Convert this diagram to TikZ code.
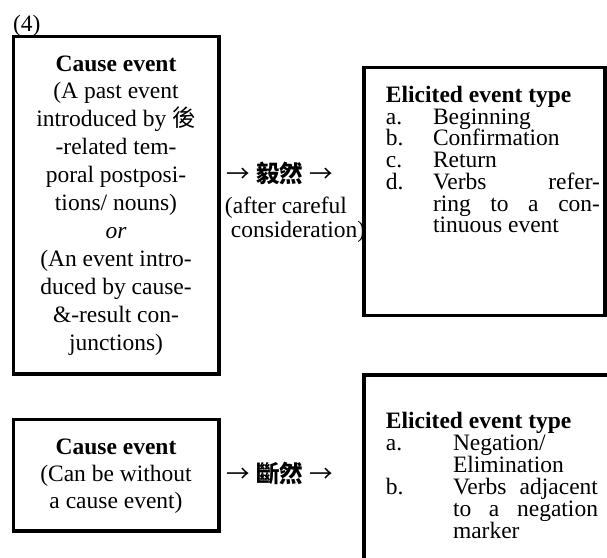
\documentclass[tikz,border=0pt]{standalone}
\usepackage{fontspec}
\setmainfont{Liberation Serif}
\newfontfamily\cjk{Noto Sans CJK TC}
\begin{document}
\begin{tikzpicture}[x=0.5pt,y=-0.5pt,
  every node/.style={inner sep=0pt, outer sep=0pt, font=\fontsize{11.75pt}{13pt}\selectfont},
  box/.style={draw, line width=1.75pt, inner sep=0pt},
  ctext/.style={anchor=base},
  ltext/.style={anchor=base west}]
\useasboundingbox (0,0) rectangle (607,558);
\clip (0,0) rectangle (607,558);
\fill[white] (0,0) rectangle (607,558);

% frames
\node[box, minimum width=102.75pt, minimum height=168.75pt] (cause1) at (116.25,205.25) {};
\node[box, minimum width=120.5pt, minimum height=124pt] (elic1) at (484.5,191.5) {};
\node[box, minimum width=102.75pt, minimum height=55.75pt] (cause2) at (116.25,475.25) {};
\node[box, minimum width=125.5pt, minimum height=112.5pt] (elic2) at (489.5,487.5) {};

% label
\node[ltext] (num) at (13,31) {(4)};

% cause event 1
\node[ctext] (c1a) at (116,71) {\textbf{Cause event}};
\node[ctext] (c1b) at (116,98.9) {(A past event};
\node[ctext] (c1c) at (116,126.8) {introduced by {\cjk 後}};
\node[ctext] (c1d) at (116,154.7) {-related tem-};
\node[ctext] (c1e) at (116,182.6) {poral postposi-};
\node[ctext] (c1f) at (116,210.5) {tions/ nouns)};
\node[ctext] (c1g) at (116,238.4) {\textit{or}};
\node[ctext] (c1h) at (116,266.3) {(An event intro-};
\node[ctext] (c1i) at (116,294.2) {duced by cause-};
\node[ctext] (c1j) at (116,322.1) {\&-result con-};
\node[ctext] (c1k) at (116,350) {junctions)};

% middle 1
\node[ltext] (m1) at (227,182) {{\cjk →} {\cjk\bfseries 毅然} {\cjk →}};
\node[ltext] (m1b) at (225,213) {(after careful};
\node[ltext] (m1c) at (225,237) {\ consideration)};

% elicited 1
\node[ltext] (e1h) at (386,102.5) {\textbf{Elicited event type}};
\node[ltext] (e1a) at (386,124.2) {a.};
\node[ltext] (e1at) at (433,124.2) {Beginning};
\node[ltext] (e1b) at (386,145.9) {b.};
\node[ltext] (e1bt) at (433,145.9) {Confirmation};
\node[ltext] (e1c) at (386,167.6) {c.};
\node[ltext] (e1ct) at (433,167.6) {Return};
\node[ltext] (e1d) at (386,189.3) {d.};
\node[ltext] (e1dt) at (433,189.3) {\makebox[83.5pt][s]{Verbs refer-}};
\node[ltext] (e1dt2) at (433,211) {\makebox[83.5pt][s]{ring to a con-}};
\node[ltext] (e1dt3) at (433,232.7) {tinuous event};

% cause event 2
\node[ctext] (c2a) at (116,454) {\textbf{Cause event}};
\node[ctext] (c2b) at (116,481) {(Can be without};
\node[ctext] (c2c) at (116,508) {a cause event)};

% middle 2
\node[ltext] (m2) at (227,482) {{\cjk →} {\cjk\bfseries 斷然} {\cjk →}};

% elicited 2
\node[ltext] (e2h) at (386,428) {\textbf{Elicited event type}};
\node[ltext] (e2a) at (386,450) {a.};
\node[ltext] (e2at) at (453,450) {Negation/};
\node[ltext] (e2at2) at (453,472) {Elimination};
\node[ltext] (e2b) at (386,494) {b.};
\node[ltext] (e2bt) at (453,494) {\makebox[72.5pt][s]{Verbs adjacent}};
\node[ltext] (e2bt2) at (453,516) {\makebox[72.5pt][s]{to a negation}};
\node[ltext] (e2bt3) at (453,538) {marker};
\end{tikzpicture}
\end{document}
